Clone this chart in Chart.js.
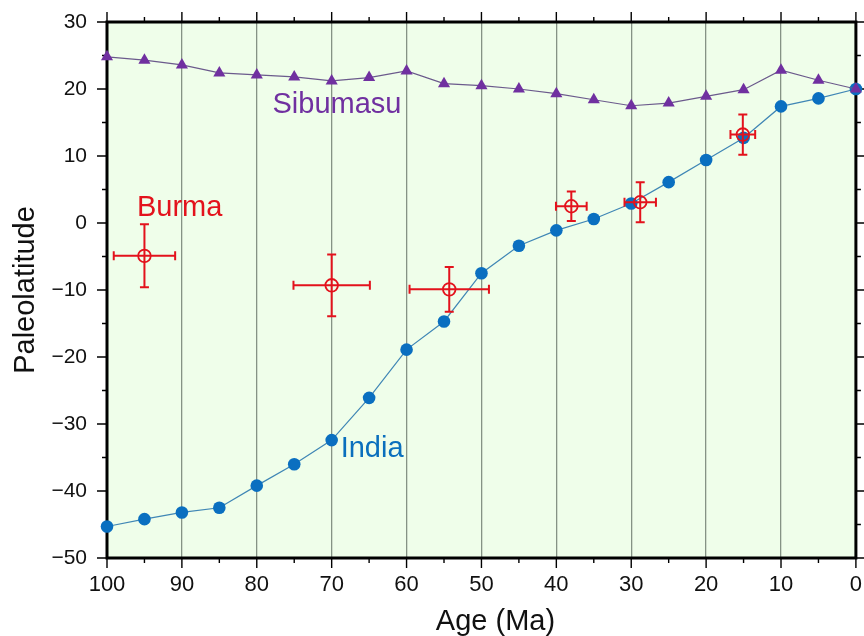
<!DOCTYPE html>
<html><head><meta charset="utf-8">
<script src="https://cdn.jsdelivr.net/npm/chart.js@4/dist/chart.umd.min.js"></script>
<style>html,body{margin:0;padding:0;background:#fff;}#wrap{width:864px;height:636px;}</style>
</head><body><div id="wrap"><canvas id="c" width="864" height="636"></canvas></div>
<script>
// ---- data ----
const ages = [100, 95, 90, 85, 80, 75, 70, 65, 60, 55, 50, 45, 40, 35, 30, 25, 20, 15, 10, 5, 0];
const indiaLat = [-45.3, -44.2, -43.2, -42.5, -39.2, -36.0, -32.4, -26.1, -18.9, -14.7, -7.5, -3.4, -1.1, 0.6, 2.9, 6.1, 9.4, 12.7, 17.4, 18.6, 20.0];
const sibumasuLat = [24.8, 24.3, 23.6, 22.4, 22.1, 21.8, 21.2, 21.7, 22.7, 20.8, 20.5, 20.0, 19.3, 18.4, 17.5, 17.9, 18.9, 19.9, 22.8, 21.3, 20.0];
const burmaAge = [95, 70, 54.3, 38, 28.8, 15.1];
const burmaLat = [-4.9, -9.3, -9.9, 2.5, 3.1, 13.2];
const burmaAgeErr = [4.1, 5.1, 5.3, 2.05, 2.1, 1.65];
const burmaLatErr = [4.7, 4.6, 3.35, 2.2, 3.0, 3.0];
const xTickStep = 10, yTickStep = 10, minorStep = 5;
const xRange = [0, 100], yRange = [-50, 30];
const labels = [
  {text: 'Sibumasu', age: 77.9, lat: 16.4, color: '#7030a0'},
  {text: 'Burma', age: 96.0, lat: 1.1, color: '#e3121c'},
  {text: 'India', age: 68.8, lat: -34.95, color: '#0a6fbd'}
];
const xTitle = 'Age (Ma)';
const yTitle = 'Paleolatitude';

// ---- styling ----
const FONT = '"Liberation Sans", Arial, Helvetica, sans-serif';
const RED = '#e3121c';

const gmtPlugin = {
  id: 'gmtStyle',
  beforeDraw(chart) {
    const {ctx, chartArea: a} = chart;
    ctx.save();
    ctx.fillStyle = '#effeea';
    ctx.fillRect(a.left, a.top, a.right - a.left, a.bottom - a.top);
    ctx.restore();
  },
  beforeDatasetsDraw(chart) {
    const {ctx, chartArea: a, scales} = chart;
    ctx.save();
    ctx.strokeStyle = '#000';
    ctx.lineWidth = 1.4;
    ctx.beginPath();
    for (let v = xRange[0]; v <= xRange[1]; v += minorStep) {
      const len = (v % xTickStep === 0) ? 10 : 5;
      const px = scales.x.getPixelForValue(v);
      ctx.moveTo(px, a.bottom); ctx.lineTo(px, a.bottom + len);
      ctx.moveTo(px, a.top); ctx.lineTo(px, a.top - len);
    }
    for (let v = yRange[0]; v <= yRange[1]; v += minorStep) {
      const len = (v % yTickStep === 0) ? 10 : 5;
      const py = scales.y.getPixelForValue(v);
      ctx.moveTo(a.left, py); ctx.lineTo(a.left - len, py);
      ctx.moveTo(a.right, py); ctx.lineTo(a.right + len, py);
    }
    ctx.stroke();
    ctx.lineWidth = 3;
    ctx.strokeRect(a.left, a.top, a.right - a.left, a.bottom - a.top);
    ctx.restore();
  },
  afterDatasetsDraw(chart) {
    const {ctx, scales} = chart;
    const cap = 4.5;
    ctx.save();
    ctx.strokeStyle = RED;
    ctx.lineWidth = 2;
    ctx.beginPath();
    for (let i = 0; i < burmaAge.length; i++) {
      const x0 = scales.x.getPixelForValue(burmaAge[i] - burmaAgeErr[i]);
      const x1 = scales.x.getPixelForValue(burmaAge[i] + burmaAgeErr[i]);
      const y0 = scales.y.getPixelForValue(burmaLat[i] - burmaLatErr[i]);
      const y1 = scales.y.getPixelForValue(burmaLat[i] + burmaLatErr[i]);
      const cx = scales.x.getPixelForValue(burmaAge[i]);
      const cy = scales.y.getPixelForValue(burmaLat[i]);
      ctx.moveTo(x0, cy); ctx.lineTo(x1, cy);
      ctx.moveTo(x0, cy - cap); ctx.lineTo(x0, cy + cap);
      ctx.moveTo(x1, cy - cap); ctx.lineTo(x1, cy + cap);
      ctx.moveTo(cx, y0); ctx.lineTo(cx, y1);
      ctx.moveTo(cx - cap, y0); ctx.lineTo(cx + cap, y0);
      ctx.moveTo(cx - cap, y1); ctx.lineTo(cx + cap, y1);
    }
    ctx.stroke();
    ctx.restore();
  },
  afterDraw(chart) {
    const {ctx, chartArea: a, scales} = chart;
    ctx.save();
    ctx.font = '29px ' + FONT;
    ctx.textBaseline = 'alphabetic';
    ctx.textAlign = 'left';
    labels.forEach(l => {
      ctx.fillStyle = l.color;
      ctx.fillText(l.text, scales.x.getPixelForValue(l.age), scales.y.getPixelForValue(l.lat));
    });
    ctx.fillStyle = '#111';
    ctx.textAlign = 'center';
    ctx.fillText(xTitle, (a.left + a.right) / 2 + 14, 630);
    ctx.translate(33.5, (a.top + a.bottom) / 2);
    ctx.rotate(-Math.PI / 2);
    ctx.fillText(yTitle, 0, 0);
    ctx.restore();
  }
};

new Chart(document.getElementById('c'), {
  type: 'scatter',
  data: {
    datasets: [
      {
        label: 'Burma',
        data: burmaAge.map((a, i) => ({x: a, y: burmaLat[i]})),
        showLine: false,
        pointStyle: 'circle',
        pointRadius: 6.3,
        pointBorderWidth: 1.8,
        borderColor: RED,
        backgroundColor: 'rgba(0,0,0,0)',
        clip: false
      },
      {
        label: 'Sibumasu',
        data: ages.map((a, i) => ({x: a, y: sibumasuLat[i]})),
        showLine: true,
        borderColor: '#6b5a8c',
        borderWidth: 1.2,
        pointStyle: 'triangle',
        pointRadius: 7,
        pointBorderWidth: 0,
        pointBackgroundColor: '#7030a0',
        pointBorderColor: '#7030a0',
        clip: false
      },
      {
        label: 'India',
        data: ages.map((a, i) => ({x: a, y: indiaLat[i]})),
        showLine: true,
        borderColor: '#3f86b5',
        borderWidth: 1.2,
        pointStyle: 'circle',
        pointRadius: 6.3,
        pointBorderWidth: 0,
        pointBackgroundColor: '#0a6fc0',
        pointBorderColor: '#0a6fc0',
        clip: false
      }
    ]
  },
  options: {
    responsive: false,
    devicePixelRatio: 1,
    animation: false,
    layout: {padding: {top: 22, right: 7, left: 0, bottom: 0}},
    plugins: {legend: {display: false}, tooltip: {enabled: false}},
    scales: {
      x: {
        type: 'linear', position: 'bottom', min: xRange[0], max: xRange[1], reverse: true,
        ticks: {stepSize: xTickStep, padding: 14, color: '#111', maxRotation: 0, autoSkip: false,
          font: {family: FONT, size: 22}, callback: v => String(v)},
        grid: {display: true, drawOnChartArea: true, drawTicks: false, color: '#859385', lineWidth: 1.3},
        border: {display: false},
        afterFit(s) { s.height = 78; s.paddingLeft = 0; s.paddingRight = 0; }
      },
      y: {
        type: 'linear', position: 'left', min: yRange[0], max: yRange[1],
        ticks: {stepSize: yTickStep, padding: 20, color: '#111',
          font: {family: FONT, size: 21}, callback: v => v < 0 ? '\u2212' + Math.abs(v) : String(v)},
        grid: {display: true, drawOnChartArea: false, drawTicks: false},
        border: {display: false},
        afterFit(s) { s.width = 107; s.paddingTop = 0; s.paddingBottom = 0; }
      }
    }
  },
  plugins: [gmtPlugin]
});
</script>
</body></html>
